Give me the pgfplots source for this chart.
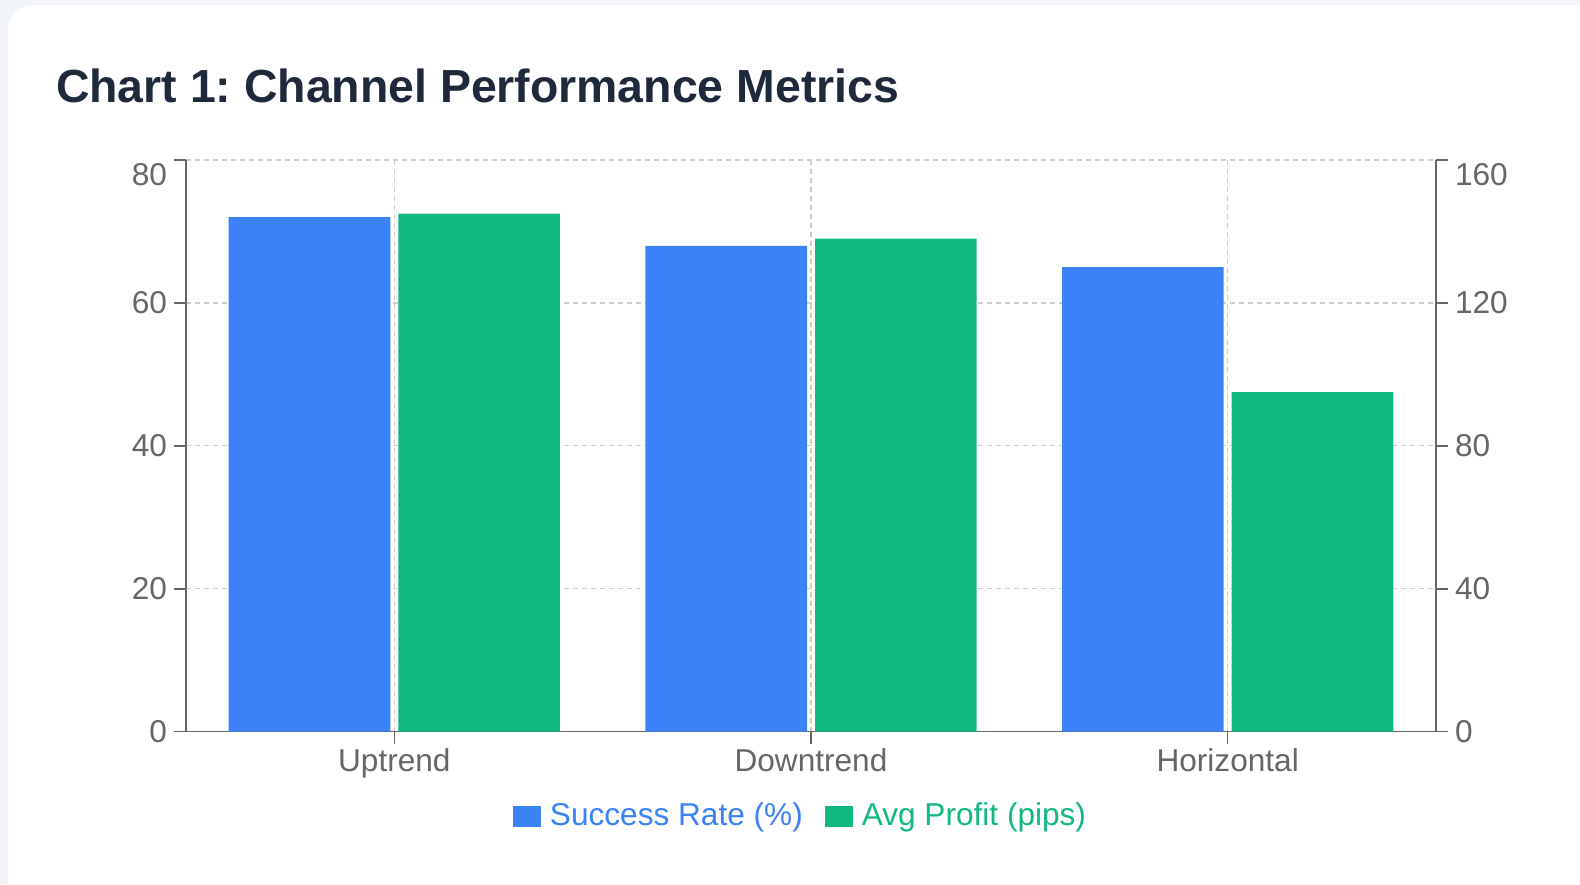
\documentclass[border=0pt]{standalone}
\usepackage{pgfplots}
\pgfplotsset{compat=1.18}
\usepackage{pgfplotstable}
\usepackage{fontspec}
\setmainfont{Liberation Sans}
\frenchspacing
\definecolor{barblue}{HTML}{3B82F6}
\definecolor{bargreen}{HTML}{10B981}
\definecolor{axgray}{HTML}{666666}
\definecolor{gridgray}{HTML}{CCCCCC}
\definecolor{titlecol}{HTML}{1E293B}
\definecolor{pagebg}{HTML}{F1F4F8}

\pgfplotstableread{
x succ profit
0 72 145
1 68 138
2 65 95
}\datatable

\pgfplotsset{
  sq legend/.style={legend image code/.code={\fill[##1] (0pt,-5.25pt) rectangle (14pt,5.25pt);}},
  common/.style={
    scale only axis,
    width=625pt, height=285.85pt,
    at={(93pt,76.15pt)}, anchor=south west,
    xmin=-0.5, xmax=2.5,
    tick align=outside,
    major tick length=6pt,
    major tick style={axgray, line width=0.75pt},
    axis line style={-, draw=axgray, line width=0.75pt},
    tick label style={font=\fontsize{15.8}{19}\selectfont, text=axgray},
    minor tick num=0,
  },
}

\begin{document}
\begin{tikzpicture}[x=1pt,y=1pt]
\useasboundingbox (0,0) rectangle (790,442);
\fill[pagebg] (0,0) rectangle (790,442);
\fill[white, rounded corners=12pt] (4,-30) rectangle (830,439.5);
\node[anchor=base west, text=titlecol, font=\fontsize{23.2}{28}\selectfont\bfseries, inner sep=0pt] at (27.8,390.85) {Chart 1: Channel Performance Metrics};

\begin{axis}[common,
  ymin=0, ymax=80,
  ytick={0,20,40,60,80},
  yticklabels={0,20,40,60,\raisebox{-7.25pt}[\height][\depth]{80}},
  xtick={0,1,2},
  xticklabels={Uptrend,Downtrend,Horizontal},
  xticklabel style={yshift=1pt},
  axis x line*=bottom, axis y line*=left,
  ymajorgrids, xmajorgrids,
  grid style={gridgray, dash pattern=on 2.5pt off 2pt, line width=0.6pt},
]
\addplot[ybar, bar width=80.8pt, bar shift=-42.4pt, fill=barblue, draw=none] table[x=x,y=succ]{\datatable};
\end{axis}

\begin{axis}[common,
  ymin=0, ymax=160,
  ytick={0,40,80,120,160},
  yticklabels={0,40,80,120,\raisebox{-7.25pt}[\height][\depth]{160}},
  axis y line*=right, axis x line=none,
  legend columns=2,
  legend style={at={(rel axis cs:0.4908,-0.1475)}, anchor=center, draw=none, fill=none,
    font=\fontsize{15.8}{19}\selectfont,
    nodes={inner xsep=0pt, inner ysep=1pt},
    /tikz/every odd column/.append style={column sep=4.5pt},
    /tikz/every even column/.append style={column sep=11pt}},
]
\addlegendimage{sq legend, fill=barblue, draw=none}
\addlegendentry{\textcolor{barblue}{Success Rate (\%)}}
\addplot[ybar, bar width=80.8pt, bar shift=42.4pt, fill=bargreen, draw=none, sq legend] table[x=x,y=profit]{\datatable};
\addlegendentry{\textcolor{bargreen}{Avg Profit (pips)}}
\end{axis}
\end{tikzpicture}
\end{document}
